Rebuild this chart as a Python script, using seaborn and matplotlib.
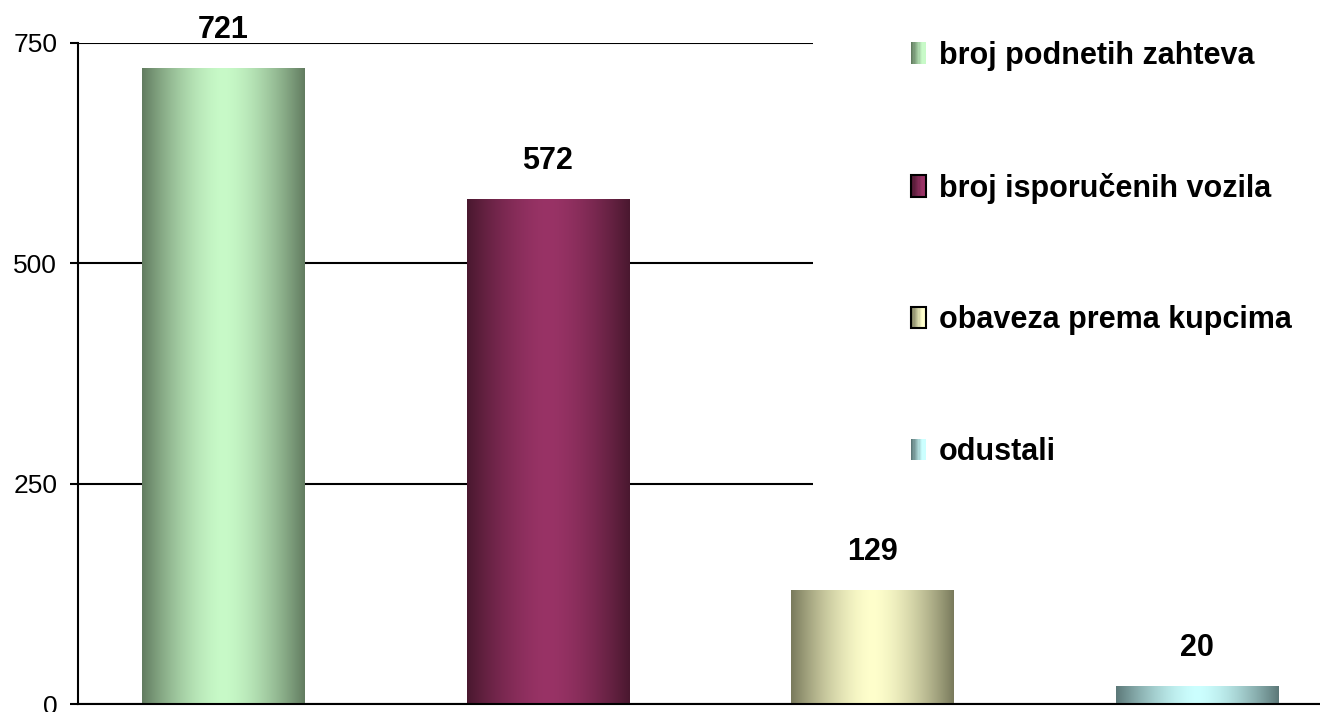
import numpy as np
import pandas as pd
import matplotlib
matplotlib.use("Agg")
import matplotlib.pyplot as plt
import matplotlib.colors as mcolors
from matplotlib.patches import Rectangle
from matplotlib.legend_handler import HandlerBase
import seaborn as sns

categories = ["broj podnetih zahteva", "broj isporučenih vozila",
              "obaveza prema kupcima", "odustali"]
values = [721, 572, 129, 20]
dark_colors = ["#627C60", "#4A182F", "#797A5C", "#5C7878"]
light_colors = ["#C8FAC8", "#993366", "#FFFFCC", "#CCFFFF"]
yticks = [0, 250, 500, 750]

sns.set_theme(style="white")
plt.rcParams["font.family"] = ["Liberation Sans", "DejaVu Sans"]
plt.rcParams["text.color"] = "black"
plt.rcParams["axes.labelcolor"] = "black"
plt.rcParams["xtick.color"] = "black"
plt.rcParams["ytick.color"] = "black"

W, H = 1320, 712
fig = plt.figure(figsize=(W / 100, H / 100), dpi=100)
ax_left, ax_right = 78 / W, 1342.5 / W
ax_bottom, ax_top = 1 - 704 / H, 1 - 43 / H
ax = fig.add_axes([ax_left, ax_bottom, ax_right - ax_left, ax_top - ax_bottom])

df = pd.DataFrame({"cat": categories, "val": values})
sns.barplot(data=df, x="cat", y="val", hue="cat", palette=light_colors,
            width=0.5, legend=False, ax=ax, order=categories, hue_order=categories)


def grad_profile(n=256):
    t = np.linspace(0, 1, n)
    return 1 - np.abs(2 * t - 1) ** 1.6


prof = grad_profile()
for patch, dc, lc in zip(ax.patches, dark_colors, light_colors):
    d = np.array(mcolors.to_rgb(dc))
    l = np.array(mcolors.to_rgb(lc))
    img = d[None, :] + (l - d)[None, :] * prof[:, None]
    img = img[None, :, :]
    x0, y0 = patch.get_x(), patch.get_y()
    w, h = patch.get_width(), patch.get_height()
    patch.set_facecolor("none")
    patch.set_edgecolor("none")
    ax.imshow(img, extent=(x0, x0 + w, y0, y0 + h), aspect="auto",
              interpolation="bilinear", zorder=2)

ax.set_xlim(-0.448, 3.448)
ax.set_ylim(0, 750)
ax.set_yticks(yticks)
ax.set_yticklabels([str(v) for v in yticks], fontsize=19, color="black")
ax.set_xticks([])
ax.set_xlabel("")
ax.set_ylabel("")
ax.set_axisbelow(True)
ax.yaxis.grid(True, color="black", linewidth=1.5)
ax.tick_params(axis="y", left=True, length=6, width=1.5, color="black", pad=9)
for s in ["top", "right"]:
    ax.spines[s].set_visible(False)
for s in ["left", "bottom"]:
    ax.spines[s].set_color("black")
    ax.spines[s].set_linewidth(1.5)

for cont in ax.containers:
    labels = ax.bar_label(cont, fmt="%d", padding=17, fontsize=22,
                          fontweight="bold", color="black")
    for t in labels:
        t.set_zorder(10)


class GradHandler(HandlerBase):
    def __init__(self, dc, lc, edge):
        super().__init__()
        self.dc, self.lc, self.edge = dc, lc, edge

    def create_artists(self, legend, orig_handle, xdescent, ydescent,
                       width, height, fontsize, trans):
        arts = []
        n = 12
        d = np.array(mcolors.to_rgb(self.dc))
        l = np.array(mcolors.to_rgb(self.lc))
        for i in range(n):
            f = i / (n - 1)
            c = d + (l - d) * min(1.0, f * 1.3)
            r = Rectangle((-xdescent + width * i / n, -ydescent), width / n + 0.3,
                          height, facecolor=c, edgecolor="none", transform=trans)
            arts.append(r)
        if self.edge:
            arts.append(Rectangle((-xdescent, -ydescent), width, height,
                                  facecolor="none", edgecolor="black",
                                  linewidth=1.5, transform=trans))
        return arts


handles = [Rectangle((0, 0), 1, 1) for _ in categories]
edges = [False, True, True, False]
hmap = {h: GradHandler(dc, lc, e) for h, dc, lc, e in
        zip(handles, dark_colors, light_colors, edges)}
leg = ax.legend(handles, categories, handler_map=hmap,
                loc="upper left", bbox_to_anchor=(813 / W, 1.08),
                bbox_transform=fig.transFigure, frameon=True,
                facecolor="white", edgecolor="white", framealpha=1,
                borderpad=3.2, borderaxespad=0, handlelength=0.5,
                handleheight=0.7, handletextpad=0.42, labelspacing=3.33,
                prop={"size": 22, "weight": "bold"})
leg.get_frame().set_linewidth(0)
for t in leg.get_texts():
    t.set_color("black")
leg.set_zorder(5)

fig.savefig("out.png", dpi=100)
